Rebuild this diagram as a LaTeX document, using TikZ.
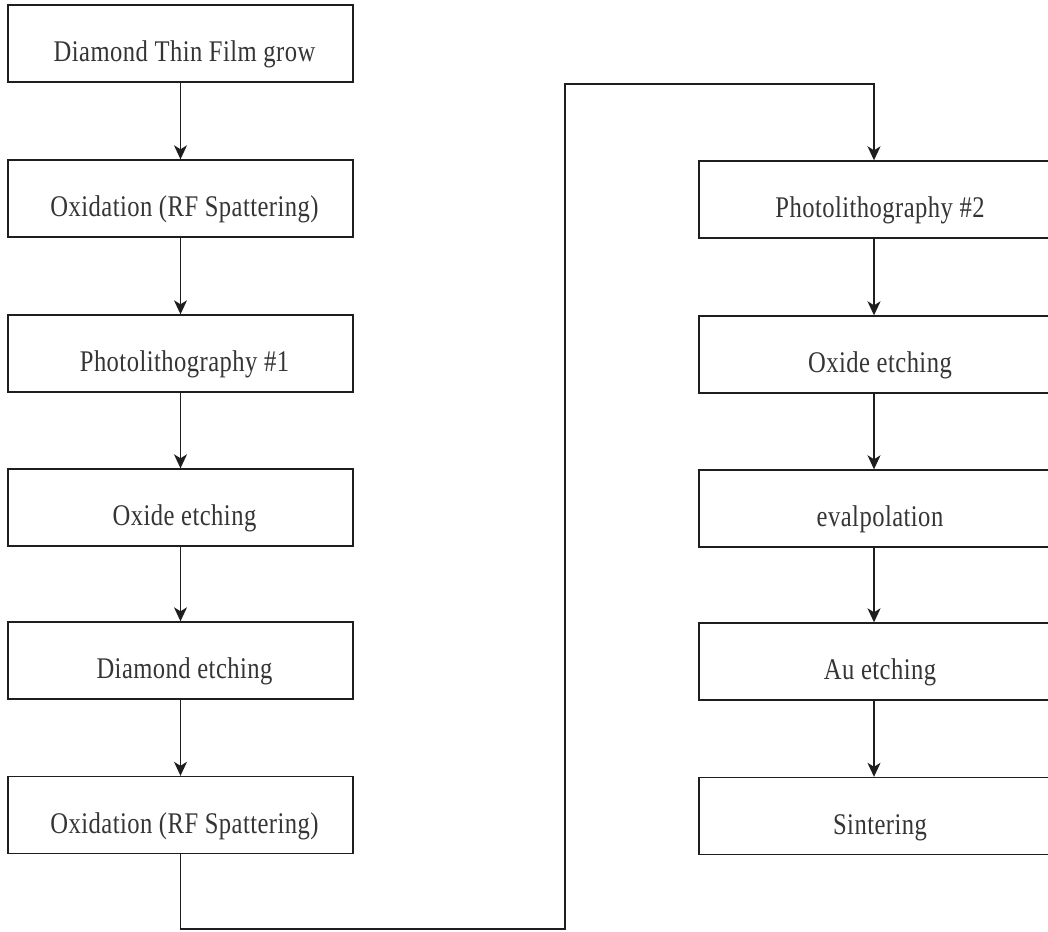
\documentclass[tikz,border=0pt]{standalone}
\usepackage{fontspec}
\setmainfont[FakeStretch=0.82,LetterSpace=1.5]{Liberation Serif}
\usetikzlibrary{arrows.meta}
\definecolor{ink}{HTML}{1E1E1E}
\begin{document}
\begin{tikzpicture}[x=1pt,y=-1pt,
  box/.style={draw=ink, line width=1.4pt, rectangle, inner sep=0pt,
    minimum height=77pt, text height=36pt, text depth=0pt,
    font=\fontsize{30}{36}\selectfont, text=ink!90},
  lbox/.style={box, minimum width=345pt},
  rbox/.style={box, minimum width=350pt},
  arr/.style={draw=ink, line width=1.4pt, -{Stealth[length=14pt,width=13pt,inset=4pt]}}]
\clip (0,0) rectangle (1048,931);
\fill[white] (0,0) rectangle (1048,931);
% left column
\node[lbox] (l1) at (180.5,43.5) {\hspace{8pt}Diamond Thin Film grow};
\node[lbox] (l2) at (180.5,198.5) {\hspace{8pt}Oxidation (RF Spattering)};
\node[lbox] (l3) at (180.5,353.5) {\hspace{8pt}Photolithography \#1};
\node[lbox] (l4) at (180.5,507.5) {\hspace{8pt}Oxide etching};
\node[lbox] (l5) at (180.5,660.5) {\hspace{8pt}Diamond etching};
\node[lbox] (l6) at (180.5,815) {\hspace{8pt}Oxidation (RF Spattering)};
% right column
\node[rbox] (r1) at (874,199.5) {\hspace{12pt}Photolithography \#2};
\node[rbox] (r2) at (874,354.5) {\hspace{12pt}Oxide etching};
\node[rbox] (r3) at (874,508.5) {\hspace{12pt}evalpolation};
\node[rbox] (r4) at (874,661.5) {\hspace{12pt}Au etching};
\node[rbox] (r5) at (874,816) {\hspace{12pt}Sintering};
% arrows
\draw[arr] (l1) -- (l2);
\draw[arr] (l2) -- (l3);
\draw[arr] (l3) -- (l4);
\draw[arr] (l4) -- (l5);
\draw[arr] (l5) -- (l6);
\draw[arr] (r1) -- (r2);
\draw[arr] (r2) -- (r3);
\draw[arr] (r3) -- (r4);
\draw[arr] (r4) -- (r5);
% connector between columns
\coordinate (c1) at (565,84);
\coordinate (c2) at (565,929);
\draw[arr] (l6.south) |- (c2) -- (c1) -| (r1.north);
\end{tikzpicture}
\end{document}
